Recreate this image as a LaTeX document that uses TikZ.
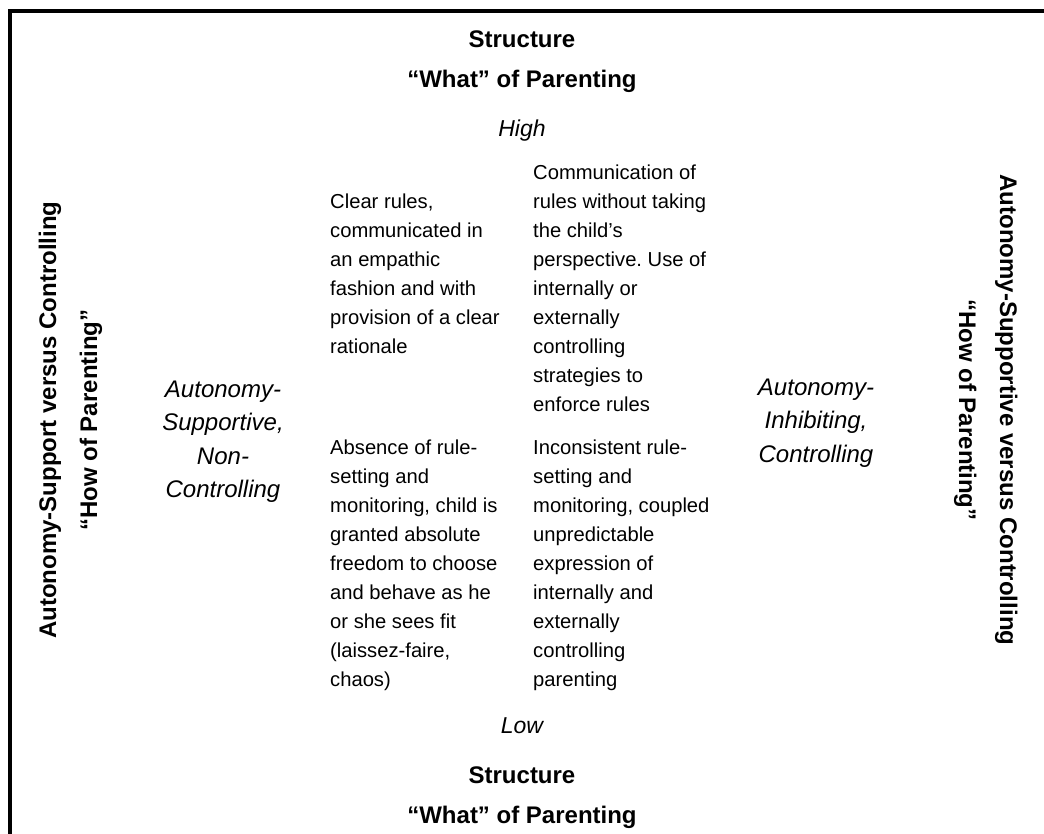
\documentclass[tikz,border=0pt]{standalone}
\usepackage{fontspec}
\setmainfont{Liberation Sans}
\usetikzlibrary{positioning}
\frenchspacing

\begin{document}
\begin{tikzpicture}[x=1pt,y=-1pt,
		head/.style={font=\fontsize{24}{40}\selectfont\bfseries, align=center, inner sep=0pt, anchor=base},
		level/.style={font=\fontsize{23}{30}\selectfont\itshape, inner sep=0pt, anchor=base},
		cell/.style={font=\fontsize{20.2}{29}\selectfont, align=left, inner sep=0pt, anchor=base west},
		pole/.style={font=\fontsize{24}{33.5}\selectfont\itshape, align=center, inner sep=0pt, anchor=base},
		axis/.style={font=\fontsize{24}{41}\selectfont\bfseries, align=center, inner sep=0pt, anchor=base}]
			\useasboundingbox (0,0) rectangle (1044,834);
			\draw[line width=4pt] (10.3,834) |- (1044,11);

			% anchors sit on the last line of each node
			\node[head] (whatHigh) at (522,88) {Structure\\“What” of Parenting};
			\node[level] (high) at (522,137) {High};
			\node[level] (low) at (522,733) {Low};
			\node[head] (whatLow) at (522,823) {Structure\\“What” of Parenting};

			\node[cell] (supHigh) at (330,353) {Clear rules,\\communicated in\\an empathic\\fashion and with\\provision of a clear\\rationale};
			\node[cell] (ctrlHigh) at (533,411) {Communication of\\rules without taking\\the child’s\\perspective. Use of\\internally or\\externally\\controlling\\strategies to\\enforce rules};
			\node[cell] (supLow) at (330,686) {Absence of rule-\\setting and\\monitoring, child is\\granted absolute\\freedom to choose\\and behave as he\\or she sees fit\\(laissez-faire,\\chaos)};
			\node[cell] (ctrlLow) at (533,686) {Inconsistent rule-\\setting and\\monitoring, coupled\\unpredictable\\expression of\\internally and\\externally\\controlling\\parenting};

			\node[pole] (supPole) at (223,497.5) {Autonomy-\\Supportive,\\Non-\\Controlling};
			\node[pole] (ctrlPole) at (816,462) {Autonomy-\\Inhibiting,\\Controlling};

			\node[axis, rotate=90] (howLeft) at (97,420) {Autonomy-Support versus Controlling\\“How of Parenting”};
			\node[axis, rotate=-90] (howRight) at (959,410) {Autonomy-Supportive versus Controlling\\“How of Parenting”};
		\end{tikzpicture}
\end{document}
